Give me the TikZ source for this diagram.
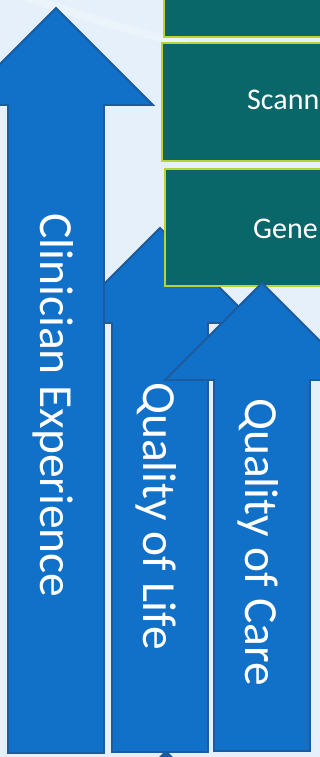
\documentclass[tikz,border=0pt]{standalone}
\usepackage{fontspec}
\setmainfont{Carlito}
\definecolor{bgblue}{HTML}{E5F0FA}
\definecolor{arrowfill}{HTML}{1170C8}
\definecolor{arrowline}{HTML}{1A5C9E}
\definecolor{boxfill}{HTML}{09676A}
\definecolor{boxline}{HTML}{B8D432}
\tikzset{
  bigarrow/.style={fill=arrowfill, draw=arrowline, line width=1.8pt, line join=miter},
  stagebox/.style={fill=boxfill, draw=boxline, line width=2.4pt},
  arrowtext/.style={rotate=-90, anchor=base west, inner sep=0pt, text=white, font=\fontsize{47.5}{47.5}\selectfont},
  boxtext/.style={anchor=base west, inner sep=0pt, text=white, font=\fontsize{30}{30}\selectfont}
}
\begin{document}
\begin{tikzpicture}[x=1pt,y=-1pt]
\useasboundingbox (0,0) rectangle (320,757);
\clip (0,0) rectangle (320,757);
\fill[bgblue] (0,0) rectangle (320,757);
\draw[white, opacity=0.3, line width=8pt] (20,-5) .. controls (120,30) and (240,60) .. (340,80);
% small arrow peeking at bottom
\fill[arrowline] (166,750) -- (150,766) -- (182,766) -- cycle;
% arrow 2 (Quality of Life)
\draw[bigarrow] (160,228) -- (255,323) -- (208,323) -- (208,752) -- (112,752) -- (112,323) -- (65,323) -- cycle;
% arrow 1 (Clinician Experience)
\draw[bigarrow] (56,8) -- (153,105) -- (104,105) -- (104,753) -- (8,753) -- (8,105) -- (-41,105) -- cycle;
% boxes
\draw[stagebox] (164,-10) rectangle (340,37);
\draw[stagebox] (162,43) rectangle (340,161);
\draw[stagebox] (165,169) rectangle (340,286);
\node[boxtext] (t2) at (247,110) {Scann};
\node[boxtext] (t3) at (253,238) {Gene};
% arrow 3 (Quality of Care)
\draw[bigarrow] (262,283) -- (359,380) -- (310,380) -- (310,751) -- (214,751) -- (214,380) -- (165,380) -- cycle;
% labels
\node[arrowtext] (l1) at (40,213) {Clinician Experience};
\node[arrowtext] (l2) at (143,382) {Quality of Life};
\node[arrowtext] (l3) at (245,398) {Quality of Care};
\end{tikzpicture}
\end{document}
